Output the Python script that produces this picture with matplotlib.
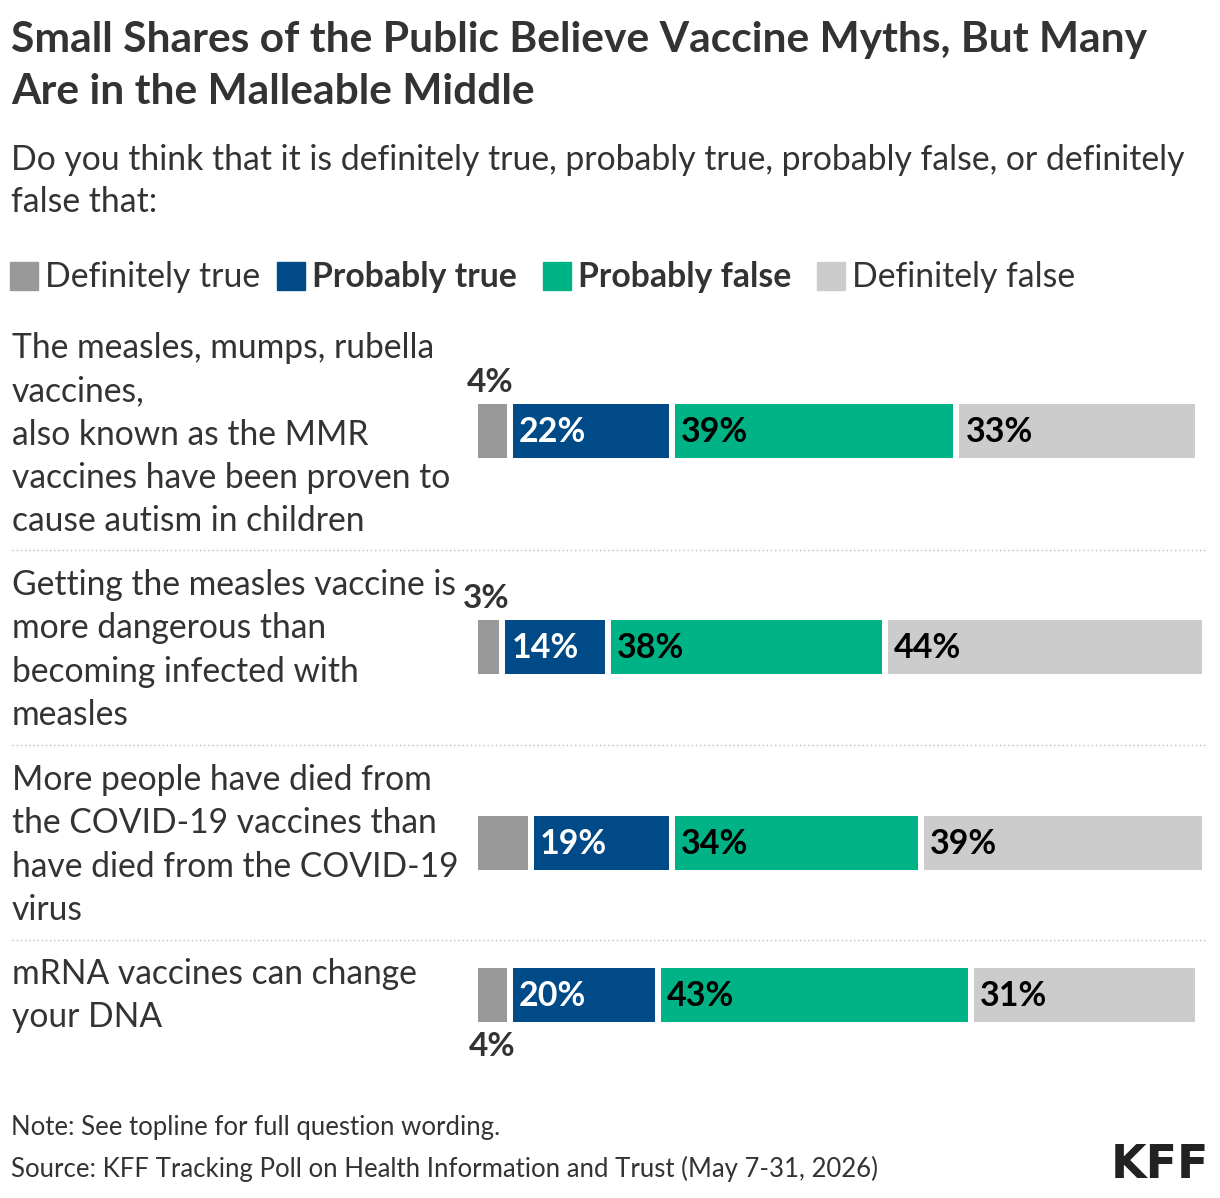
import matplotlib
matplotlib.use("Agg")
import matplotlib.pyplot as plt
from matplotlib.lines import Line2D

plt.rcParams['font.family'] = ['Lato', 'DejaVu Sans']

W, H = 1220, 1198

# data
statements = [
    ["The measles, mumps, rubella", "vaccines,", "also known as the MMR",
     "vaccines have been proven to", "cause autism in children"],
    ["Getting the measles vaccine is", "more dangerous than",
     "becoming infected with", "measles"],
    ["More people have died from", "the COVID-19 vaccines than",
     "have died from the COVID-19", "virus"],
    ["mRNA vaccines can change", "your DNA"],
]
categories = ["Definitely true", "Probably true", "Probably false", "Definitely false"]
definitely_true = [4, 3, 7, 4]
probably_true = [22, 14, 19, 20]
probably_false = [39, 38, 34, 43]
definitely_false = [33, 44, 39, 31]
series = [definitely_true, probably_true, probably_false, definitely_false]

colors = ["#999999", "#004a87", "#00b386", "#cccccc"]
label_colors = [None, "white", "black", "black"]
legend_bold = [False, True, True, False]
# where the small "definitely true" label sits
small_pos = ["above", "above", None, "below"]

TXT = "#333333"


def fx(x):
    return x / W


def fy(y):
    return 1 - y / H


fig = plt.figure(figsize=(W / 100, H / 100), dpi=100)

def ftext(x, y, s, size, **kw):
    kw.setdefault("color", TXT)
    kw.setdefault("va", "center")
    fig.text(fx(x), fy(y), s, fontsize=size, **kw)

# title / subtitle
ftext(11, 40, "Small Shares of the Public Believe Vaccine Myths, But Many", 30.6, weight="bold")
ftext(11, 92, "Are in the Malleable Middle", 30.6, weight="bold")
ftext(11, 160, "Do you think that it is definitely true, probably true, probably false, or definitely", 24.3)
ftext(11, 202, "false that:", 24.3)

# legend
leg_x = [10, 277, 543, 817]
for i, cat in enumerate(categories):
    fig.patches.append(plt.Rectangle((fx(leg_x[i]), fy(290)), 28 / W, 28 / H,
                                     transform=fig.transFigure, color=colors[i]))
    ftext(leg_x[i] + 35, 277, cat, 24.3, weight="bold" if legend_bold[i] else "normal")

# bars
scale = 7.13  # px per percentage point
gap = 6 / scale
ax = fig.add_axes([fx(478), 0, 740 / W, 1])
ax.set_xlim(0, 740 / scale)
ax.set_ylim(H, 0)
ax.axis("off")

row_y = [431, 647, 843, 995]
bar_h = 54
for r in range(len(statements)):
    left = 0
    for c, vals in enumerate(series):
        v = vals[r]
        ax.barh(row_y[r], v, left=left, height=bar_h, color=colors[c], linewidth=0)
        if label_colors[c] is not None:
            ax.text(left + 6 / scale, row_y[r] + 1, f"{v}%", color=label_colors[c],
                    fontsize=24.5, weight="bold", va="center", ha="left")
        elif small_pos[r] == "above":
            ax.text(left + v / 2 - 2 / scale, row_y[r] - bar_h / 2 - 21, f"{v}%", color=TXT,
                    fontsize=24, weight="bold", va="center", ha="center")
        elif small_pos[r] == "below":
            ax.text(left + v / 2, row_y[r] + bar_h / 2 + 24, f"{v}%", color=TXT,
                    fontsize=24, weight="bold", va="center", ha="center")
        left += v + gap

# row labels
line_top = [348, 585, 780, 974]
for r, lines in enumerate(statements):
    for k, line in enumerate(lines):
        ftext(12, line_top[r] + k * 43.3, line, 24.2)

# dotted separators
for y in [550, 745, 940]:
    fig.add_artist(Line2D([fx(12), fx(1208)], [fy(y), fy(y)], transform=fig.transFigure,
                          color="#bbbbbb", linestyle=(0, (1, 2)), linewidth=1))

# footer
ftext(11, 1128, "Note: See topline for full question wording.", 18.5)
ftext(11, 1169, "Source: KFF Tracking Poll on Health Information and Trust (May 7-31, 2026)", 18.5)
fig.text(fx(1209), fy(1166), "KFF", fontsize=33, weight="bold", color="#222222",
         family=["Liberation Sans Narrow", "DejaVu Sans"], ha="right", va="center")

fig.savefig("out.png", dpi=100, facecolor="white")
